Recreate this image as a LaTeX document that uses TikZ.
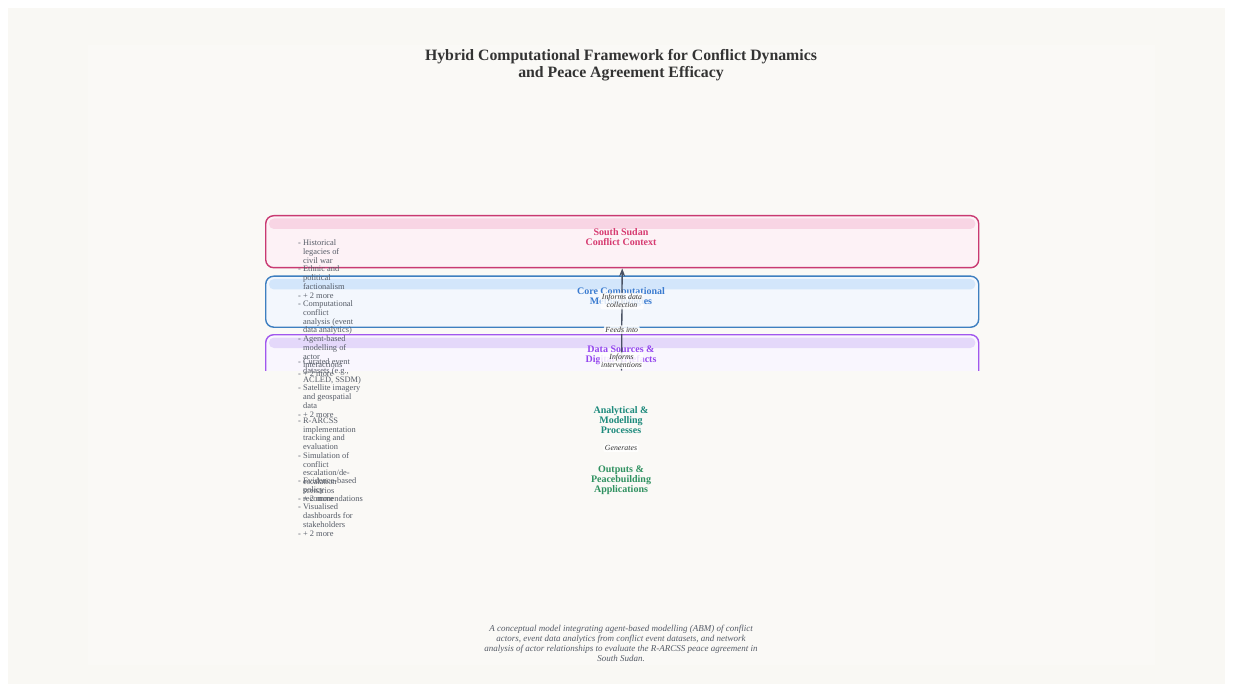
\documentclass[tikz,border=0pt]{standalone}
\usepackage{fontspec}
\setmainfont{Liberation Serif}
\usetikzlibrary{positioning,calc,arrows.meta}

\definecolor{pagebg}{HTML}{F9F8F4}
\definecolor{panelbg}{HTML}{FAF9F6}
\definecolor{inkdark}{HTML}{333333}
\definecolor{inkgray}{HTML}{555B66}
\definecolor{ctxline}{HTML}{C93A72}
\definecolor{ctxfill}{HTML}{FDF2F6}
\definecolor{ctxband}{HTML}{F8D5E4}
\definecolor{ctxtext}{HTML}{D63A70}
\definecolor{methline}{HTML}{3E7FC0}
\definecolor{methfill}{HTML}{F3F7FD}
\definecolor{methband}{HTML}{D3E6FB}
\definecolor{methtext}{HTML}{3A7BD0}
\definecolor{dataline}{HTML}{A157EE}
\definecolor{datafill}{HTML}{F9F6FE}
\definecolor{databand}{HTML}{E4D8FA}
\definecolor{datatext}{HTML}{9446EE}
\definecolor{anatext}{HTML}{1D8A7C}
\definecolor{outtext}{HTML}{2F9160}
\definecolor{arrowc}{HTML}{4A5263}

\newcommand{\ind}{\phantom{- }}

\begin{document}
\begin{tikzpicture}[x=1pt,y=-1pt,
  layerbox/.style={draw, line width=1.4pt, rounded corners=8pt, minimum width=713pt, anchor=north west, inner sep=0pt},
  layerttl/.style={font=\fontsize{10}{10}\selectfont\bfseries, align=center, inner sep=0pt},
  itemlist/.style={font=\fontsize{8.4}{8.7}\selectfont, text=inkgray, align=left, anchor=north west, inner sep=0pt},
  linklbl/.style={font=\fontsize{7.8}{8}\selectfont\itshape, text=inkdark, fill=white, fill opacity=0.85, text opacity=1, align=center, inner sep=1.5pt, rounded corners=2pt}]

\fill[white] (0,0) rectangle (1233,692);
\fill[pagebg] (8,8) rectangle (1225,684);
\fill[panelbg] (88,45) rectangle (1155,665);

\node[font=\fontsize{15.8}{17}\selectfont\bfseries, text=inkdark, align=center] (title) at (621,65.5) {Hybrid Computational Framework for Conflict Dynamics\\and Peace Agreement Efficacy};

\node[layerbox, draw=ctxline, fill=ctxfill, minimum height=52pt] (ctx) at (265,215) {};
\fill[ctxband, rounded corners=5pt] ($(ctx.north west)+(4,3.5)$) rectangle ($(ctx.north east)+(-4,14)$);
\node[layerttl, text=ctxtext] (ctxttl) at (621,237) {South Sudan\\Conflict Context};

\node[layerbox, draw=methline, fill=methfill, minimum height=51pt] (meth) at (265,275.5) {};
\fill[methband, rounded corners=5pt] ($(meth.north west)+(4,3.5)$) rectangle ($(meth.north east)+(-4,14)$);
\node[layerttl, text=methtext] (methttl) at (621,297) {Core Computational\\Methodologies};

\begin{scope}
\clip (0,0) rectangle (1233,370.5);
\node[layerbox, draw=dataline, fill=datafill, minimum height=52pt] (data) at (265,334) {};
\fill[databand, rounded corners=5pt] ($(data.north west)+(4,3.5)$) rectangle ($(data.north east)+(-4,14)$);
\node[layerttl, text=datatext] (datattl) at (621,355) {Data Sources \&\\Digital Artefacts};
\end{scope}

\coordinate (foot) at (621.5,370.5);
\draw[arrowc, line width=1.3pt, -{Stealth[length=8pt,width=6pt]}] (foot) -- (ctx.south)
  node[linklbl, pos=0.097] (lintv) {Informs\\interventions}
  node[linklbl, pos=0.4] (lfeed) {Feeds into}
  node[linklbl, pos=0.68] (lcoll) {Informs data\\collection};

\node[layerttl, text=anatext] (anattl) at (621,420) {Analytical \&\\Modelling\\Processes};
\node[linklbl] (lgen) at (621,448) {Generates};
\node[layerttl, text=outtext] (outttl) at (621,480) {Outputs \&\\Peacebuilding\\Applications};

\node[itemlist] (ctxitems) at (298,239.8) {- Historical\\\ind legacies of\\\ind civil war\\- Ethnic and\\\ind political\\\ind factionalism\\- + 2 more};
\node[itemlist] (methitems) at (298,300.8) {- Computational\\\ind conflict\\\ind analysis (event\\\ind data analytics)\\- Agent-based\\\ind modelling of\\\ind actor\\\ind interactions\\- + 2 more};
\node[itemlist] (dataitems) at (298,358.8) {- Curated event\\\ind datasets (e.g.,\\\ind ACLED, SSDM)\\- Satellite imagery\\\ind and geospatial\\\ind data\\- + 2 more};
\node[itemlist] (anaitems) at (298,417.8) {- R-ARCSS\\\ind implementation\\\ind tracking and\\\ind evaluation\\- Simulation of\\\ind conflict\\\ind escalation/de-\\\ind escalation\\\ind scenarios\\- + 2 more};
\node[itemlist] (outitems) at (298,477.8) {- Evidence-based\\\ind policy\\\ind recommendations\\- Visualised\\\ind dashboards for\\\ind stakeholders\\- + 2 more};

\node[font=\fontsize{9}{9.8}\selectfont\itshape, text=inkgray, align=center] (caption) at (621,643.5) {A conceptual model integrating agent-based modelling (ABM) of conflict\\actors, event data analytics from conflict event datasets, and network\\analysis of actor relationships to evaluate the R-ARCSS peace agreement in\\South Sudan.};
\end{tikzpicture}
\end{document}
